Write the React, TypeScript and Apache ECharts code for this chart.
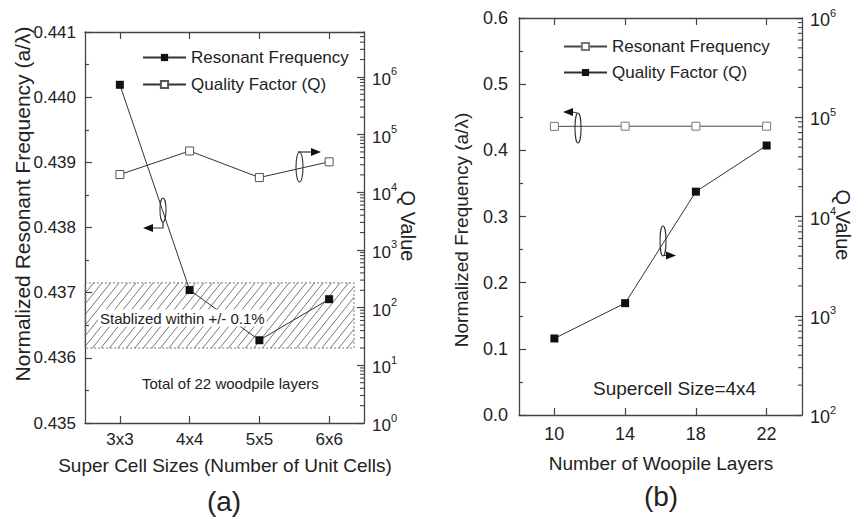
import React, { useEffect, useRef } from 'react';
import * as echarts from 'echarts';

// ---------- data ----------
const sizeCategories = ['3x3', '4x4', '5x5', '6x6'];
const freqA = [0.44019, 0.43704, 0.43627, 0.4369];
const qA = [20300, 52000, 18000, 33700];
const bandA = [0.43615, 0.43715];

const layerCategories = ['10', '14', '18', '22'];
const freqB = [0.4362, 0.4365, 0.4365, 0.4365];
const qB = [590, 1340, 17800, 51900];

const minorMultipliers = [2, 3, 4, 5, 6, 7, 8, 9];
const decadesA = [1, 10, 100, 1e3, 1e4, 1e5, 1e6];
const decadesB = [100, 1e3, 1e4, 1e5];

const FONT = '"Liberation Sans", Arial, Helvetica, sans-serif';
const INK = '#222';
const AX = '#444';

function minorValues(decades: number[], max: number) {
  const out: number[][] = [];
  decades.forEach((d) => minorMultipliers.forEach((m) => {
    const v = d * m;
    if (v < max) out.push([0, v]);
  }));
  return out;
}

function logLabel(v: number) {
  const e = Math.log10(v);
  if (Math.abs(e - Math.round(e)) > 1e-6) return '';
  return `{b|10}{s|${Math.round(e)}}`;
}

function baseAxes(cats: string[], leftMin: number, leftMax: number, leftInterval: number, digits: number, logMin: number, logMax: number, fs: number, leftMargin: number, bottomMargin: number) {
  const line = { show: true, lineStyle: { color: AX, width: 1.3 } };
  return {
    xAxis: [
      {
        type: 'category', data: cats, position: 'bottom', boundaryGap: true,
        axisLine: line,
        axisTick: { show: true, inside: true, alignWithLabel: true, length: 7, lineStyle: { color: AX, width: 1.2 } },
        axisLabel: { fontSize: fs, color: INK, fontFamily: FONT, margin: bottomMargin },
        splitLine: { show: false },
      },
      {
        type: 'category', data: cats, position: 'top', boundaryGap: true,
        axisLine: line,
        axisTick: { show: true, inside: true, alignWithLabel: true, length: 7, lineStyle: { color: AX, width: 1.2 } },
        axisLabel: { show: false },
        splitLine: { show: false },
      },
    ],
    yAxis: [
      {
        type: 'value', position: 'left', min: leftMin, max: leftMax, interval: leftInterval,
        axisLine: line,
        axisTick: { show: true, inside: true, length: 7, lineStyle: { color: AX, width: 1.2 } },
        minorTick: { show: true, splitNumber: 2, length: 4, lineStyle: { color: AX, width: 1.2 } },
        axisLabel: { fontSize: fs, color: INK, fontFamily: FONT, margin: leftMargin, formatter: (v: number) => v.toFixed(digits) },
        splitLine: { show: false },
      },
      {
        type: 'log', logBase: 10, position: 'right', min: logMin, max: logMax,
        axisLine: line,
        axisTick: { show: true, inside: true, length: 7, lineStyle: { color: AX, width: 1.2 } },
        axisLabel: {
          color: INK, fontFamily: FONT, margin: 8, formatter: logLabel,
          rich: {
            b: { fontSize: fs, fontFamily: FONT, color: INK, verticalAlign: 'bottom', lineHeight: 22 },
            s: { fontSize: 11, fontFamily: FONT, color: INK, verticalAlign: 'top', lineHeight: 22 },
          },
        },
        splitLine: { show: false },
      },
    ],
  };
}

function minorTickSeries(data: number[][]) {
  return {
    type: 'custom', xAxisIndex: 0, yAxisIndex: 1, silent: true, z: 4,
    data,
    renderItem: (params: any, api: any) => {
      const cs = params.coordSys;
      const y = api.coord([0, api.value(1)])[1];
      const xr = cs.x + cs.width;
      return { type: 'line', shape: { x1: xr - 4, y1: y, x2: xr, y2: y }, style: { stroke: AX, lineWidth: 1.1 } };
    },
  };
}

function text(x: number, y: number, t: string, size: number, opts: any = {}) {
  return {
    type: 'text', x, y, rotation: opts.rotation || 0, z: 100,
    style: {
      text: t, fill: INK, font: `${size}px ${FONT}`,
      align: opts.align || 'center', verticalAlign: 'middle',
      backgroundColor: opts.bg, padding: opts.bg ? [1, 2] : 0,
    },
  };
}

function ellipse(cx: number, cy: number, rx: number, ry: number) {
  return { type: 'ellipse', z: 90, shape: { cx, cy, rx, ry }, style: { fill: 'none', stroke: '#333', lineWidth: 1.1 } };
}
function arrow(points: number[][], dir: number) {
  const tip = points[points.length - 1];
  const base = tip[0] - dir * 10;
  const body = points.slice(0, -1).concat([[base, tip[1]]]);
  return [
    { type: 'polyline', z: 90, shape: { points: body }, style: { stroke: '#333', lineWidth: 1.2, fill: 'none' } },
    { type: 'polygon', z: 90, shape: { points: [tip, [base, tip[1] - 4], [base, tip[1] + 4]] }, style: { fill: '#111' } },
  ];
}

function legendBox(name: string, left: number, top: number) {
  return {
    data: [name], left, top, orient: 'horizontal', itemWidth: 43, itemHeight: 9, selectedMode: false,
    textStyle: { fontSize: 17, color: INK, fontFamily: FONT },
  };
}

const optionA: any = {
  animation: false,
  backgroundColor: '#fff',
  textStyle: { fontFamily: FONT },
  grid: { left: 85, top: 32, width: 279, height: 391 },
  legend: [legendBox('Resonant Frequency', 137, 44), legendBox('Quality Factor (Q)', 137, 71)],
  ...baseAxes(sizeCategories, 0.435, 0.441, 0.001, 3, 1, 6e6, 17, 9, 8),
  series: [
    {
      type: 'custom', xAxisIndex: 0, yAxisIndex: 0, silent: true, z: 1,
      data: [[0, bandA[0], bandA[1]]],
      encode: { x: 0, y: [1, 2] },
      renderItem: (params: any, api: any) => {
        const cs = params.coordSys;
        const yTop = api.coord([0, api.value(2)])[1];
        const yBot = api.coord([0, api.value(1)])[1];
        const xL = cs.x, xR = cs.x + cs.width - 10;
        const H = yBot - yTop;
        const k = 0.8, step = 8.5;
        const children: any[] = [];
        for (let c = xL - H * k; c < xR; c += step) {
          const t0 = Math.max(0, (xL - c) / k);
          const t1 = Math.min(H, (xR - c) / k);
          if (t1 > t0) {
            children.push({ type: 'line', shape: { x1: c + t0 * k, y1: yBot - t0, x2: c + t1 * k, y2: yBot - t1 }, style: { stroke: '#555', lineWidth: 0.8 } });
          }
        }
        children.push({ type: 'rect', shape: { x: xL, y: yTop, width: xR - xL, height: H }, style: { fill: 'none', stroke: '#777', lineWidth: 1, lineDash: [2, 2] } });
        return { type: 'group', children };
      },
    },
    minorTickSeries(minorValues(decadesA, 6e6)),
    {
      name: 'Resonant Frequency', type: 'line', xAxisIndex: 0, yAxisIndex: 0, data: freqA,
      symbol: 'rect', symbolSize: 8, z: 5,
      itemStyle: { color: '#111' }, lineStyle: { color: '#333', width: 1 },
    },
    {
      name: 'Quality Factor (Q)', type: 'line', xAxisIndex: 0, yAxisIndex: 1, data: qA,
      symbol: 'rect', symbolSize: 8, z: 5,
      itemStyle: { color: '#fff', borderColor: '#555', borderWidth: 1 }, lineStyle: { color: '#333', width: 1 },
    },
  ],
  graphic: [
    text(22, 204, 'Normalized Resonant Frequency (a/λ)', 21, { rotation: Math.PI / 2 }),
    text(408, 226, 'Q Value', 20, { rotation: -Math.PI / 2 }),
    text(225, 465, 'Super Cell Sizes (Number of Unit Cells)', 19),
    text(224, 501, '(a)', 28),
    text(98, 318, 'Stablized within +/- 0.1%', 15, { align: 'left', bg: '#fff' }),
    text(142, 383, 'Total of 22 woodpile layers', 15, { align: 'left' }),
    ellipse(163, 210, 3, 12),
    ...arrow([[163, 222], [163, 228], [143, 228]], -1),
    ellipse(299.5, 167, 3.5, 15),
    ...arrow([[298, 152], [321, 152]], 1),
  ],
};

const optionB: any = {
  animation: false,
  backgroundColor: '#fff',
  textStyle: { fontFamily: FONT },
  grid: { left: 89, top: 18, width: 283, height: 397 },
  legend: [legendBox('Resonant Frequency', 128, 33), legendBox('Quality Factor (Q)', 128, 59)],
  ...baseAxes(layerCategories, 0, 0.6, 0.1, 1, 100, 1e6, 18, 11, 10),
  series: [
    minorTickSeries(minorValues(decadesB, 1e6)),
    {
      name: 'Resonant Frequency', type: 'line', xAxisIndex: 0, yAxisIndex: 0, data: freqB,
      symbol: 'rect', symbolSize: 8, z: 5,
      itemStyle: { color: '#fff', borderColor: '#777', borderWidth: 1 }, lineStyle: { color: '#444', width: 1 },
    },
    {
      name: 'Quality Factor (Q)', type: 'line', xAxisIndex: 0, yAxisIndex: 1, data: qB,
      symbol: 'rect', symbolSize: 8, z: 5,
      itemStyle: { color: '#111' }, lineStyle: { color: '#333', width: 1 },
    },
  ],
  graphic: [
    text(31, 230, 'Normalized Frequency (a/λ)', 19, { rotation: Math.PI / 2 }),
    text(413, 225, 'Q Value', 20, { rotation: -Math.PI / 2 }),
    text(231, 463, 'Number of Woopile Layers', 19),
    text(231, 496, '(b)', 28),
    text(163, 388, 'Supercell Size=4x4', 19, { align: 'left' }),
    ellipse(148, 128, 3, 15),
    ...arrow([[147, 113], [133, 112]], -1),
    ellipse(233, 241, 3, 15),
    ...arrow([[234, 255.5], [246, 255.5]], 1),
  ],
};

function Panel({ option, left, width }: { option: any; left: number; width: number }) {
  const ref = useRef<HTMLDivElement>(null);
  useEffect(() => {
    if (!ref.current) return;
    const chart = echarts.init(ref.current, undefined, { renderer: 'svg' });
    chart.setOption(option);
    return () => chart.dispose();
  }, [option]);
  return <div ref={ref} style={{ position: 'absolute', left, top: 0, width, height: 517 }} />;
}

export default function App() {
  return (
    <div style={{ position: 'absolute', left: 0, top: 0, width: 857, height: 517, background: '#fff' }}>
      <Panel option={optionA} left={0} width={430} />
      <Panel option={optionB} left={430} width={427} />
    </div>
  );
}
